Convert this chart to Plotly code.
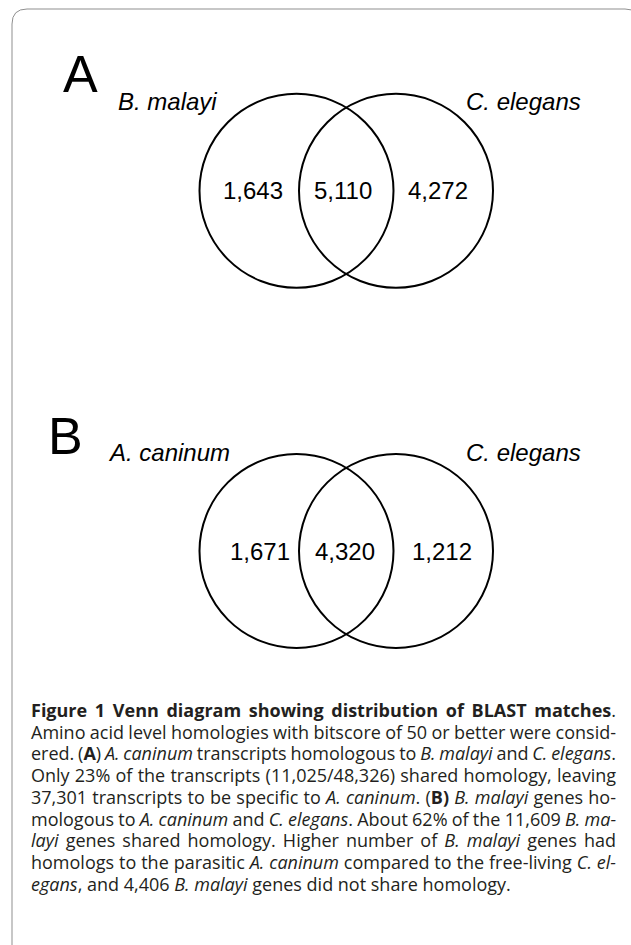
import plotly.graph_objects as go

# ---------------- data ----------------
panel_labels = ["A", "B"]
left_species = ["B. malayi", "A. caninum"]
right_species = ["C. elegans", "C. elegans"]
left_only = [1643, 1671]
shared = [5110, 4320]
right_only = [4272, 1212]

caption_lines = [
    "<b>Figure 1 Venn diagram showing distribution of BLAST matches</b>.",
    "Amino acid level homologies with bitscore of 50 or better were consid-",
    "ered. (<b>A</b>) <i>A. caninum</i> transcripts homologous to <i>B. malayi</i> and <i>C. elegans</i>.",
    "Only 23% of the transcripts (11,025/48,326) shared homology, leaving",
    "37,301 transcripts to be specific to <i>A. caninum</i>. (<b>B)</b> <i>B. malayi</i> genes ho-",
    "mologous to <i>A. caninum</i> and <i>C. elegans</i>. About 62% of the 11,609 <i>B. ma-</i>",
    "<i>layi</i> genes shared homology. Higher number of <i>B. malayi</i> genes had",
    "homologs to the parasitic <i>A. caninum</i> compared to the free-living <i>C. el-</i>",
    "<i>egans</i>, and 4,406 <i>B. malayi</i> genes did not share homology.",
]

# ---------------- layout constants ----------------
W, H = 631, 945
panel_cy = [190.8, 551.0]
cx_left, cx_right, radius = 296.5, 396.0, 97.0
num_x = [[253, 343, 438], [260, 345, 442]]
panel_letter_xy = [(80, 73.5), (65, 435.5)]
species_y = [101.4, 452.5]
left_species_x = [116, 106]
right_species_x = [464, 464]
cap_x, cap_top, cap_dy = 29, 696.3, 21.7
cap_right = 616
cap_size = 18

FONT = "Liberation Sans, Arial, Helvetica, sans-serif"
CAP_FONT = "Open Sans, Noto Sans, sans-serif"

fig = go.Figure()
fig.add_trace(go.Scatter(x=[0, W], y=[0, H], mode="markers",
                         marker=dict(opacity=0), hoverinfo="skip", showlegend=False))

shapes = []
annotations = []

# caption block (annotation index 0)
annotations.append(dict(x=cap_x, y=cap_top, text="<br>".join(caption_lines), showarrow=False,
                        xanchor="left", yanchor="top", align="left",
                        font=dict(family=CAP_FONT, size=cap_size, color="#231f20")))

# border frame (rounded corners)
shapes.append(dict(type="path", xref="x", yref="y",
                   path=f"M 12,{H + 5} L 12,24 Q 12,9 27,9 L 625,9 Q 640,9 640,24",
                   line=dict(color="#8f8f8f", width=1)))

for i, lab in enumerate(panel_labels):
    cy = panel_cy[i]
    for cx in (cx_left, cx_right):
        shapes.append(dict(type="circle", xref="x", yref="y",
                           x0=cx - radius, x1=cx + radius, y0=cy - radius, y1=cy + radius,
                           line=dict(color="black", width=2)))
    px, py = panel_letter_xy[i]
    annotations.append(dict(x=px, y=py, text=lab, showarrow=False, xanchor="center", yanchor="middle",
                            font=dict(family=FONT, size=52, color="black")))
    annotations.append(dict(x=left_species_x[i], y=species_y[i], text=f"<i>{left_species[i]}</i>",
                            showarrow=False, xanchor="left", yanchor="middle",
                            font=dict(family=FONT, size=24, color="black")))
    annotations.append(dict(x=right_species_x[i], y=species_y[i], text=f"<i>{right_species[i]}</i>",
                            showarrow=False, xanchor="left", yanchor="middle",
                            font=dict(family=FONT, size=24, color="black")))
    for j, v in enumerate([left_only[i], shared[i], right_only[i]]):
        annotations.append(dict(x=num_x[i][j], y=cy, text=f"{v:,}", showarrow=False,
                                xanchor="center", yanchor="middle",
                                font=dict(family=FONT, size=24, color="black")))

fig.update_layout(
    width=W, height=H, margin=dict(l=0, r=0, t=0, b=0),
    paper_bgcolor="white", plot_bgcolor="white",
    xaxis=dict(range=[0, W], visible=False, fixedrange=True),
    yaxis=dict(range=[H, 0], visible=False, fixedrange=True),
    shapes=shapes, annotations=annotations, showlegend=False,
)

# page margin removal, caption leading and justified lines (word spacing)
post_js = """
document.body.style.margin='0';
document.body.style.overflow='hidden';
var gd=document.getElementById('{plot_id}');
var g=gd.querySelector('g.annotation[data-index="0"]');
if(g){
  var t=g.querySelector('text.annotation-text');
  var lines=t?t.querySelectorAll('tspan.line'):[];
  for(var i=0;i<lines.length;i++){ lines[i].setAttribute('dy',(i*DY)+'px'); }
  for(var i=0;i<lines.length-1;i++){
    var ln=lines[i];
    ln.style.wordSpacing='0px';
    var w=ln.getComputedTextLength();
    var left=ln.getBoundingClientRect().left;
    var n=(ln.textContent.match(/ /g)||[]).length;
    var extra=(RIGHT-left)-w;
    if(n>0) ln.style.wordSpacing=(extra/n)+'px';
  }
}
""".replace("DY", str(cap_dy)).replace("RIGHT", str(cap_right))

fig.write_html("out.html", post_script=post_js, config={"displayModeBar": False})
